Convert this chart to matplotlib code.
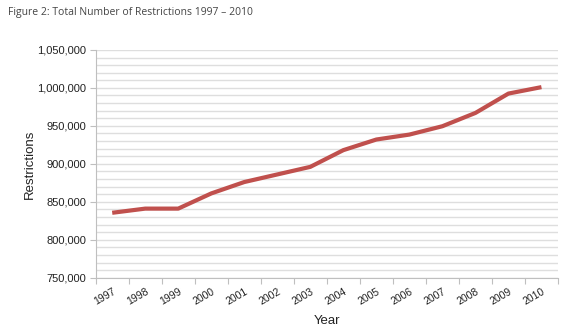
import numpy as np
import matplotlib.pyplot as plt
from matplotlib.ticker import FuncFormatter, MultipleLocator

years = ['1997', '1998', '1999', '2000', '2001', '2002', '2003',
         '2004', '2005', '2006', '2007', '2008', '2009', '2010']
restrictions = [835500, 841000, 841000, 861000, 876000, 886000, 896000,
                918000, 932000, 938500, 949500, 967000, 992500, 1001000]

plt.rcParams['font.family'] = ['Liberation Sans', 'DejaVu Sans']

fig = plt.figure(figsize=(5.8, 3.35), dpi=100)
ax = fig.add_axes([0.165, 0.171, 0.797, 0.680])

x = np.arange(len(years))
ax.plot(x, restrictions, color='#c0504d', lw=3.0, solid_capstyle='butt', zorder=3)

ax.set_xlim(-0.5, len(years) - 0.5)
ax.set_ylim(750000, 1050000)
ax.yaxis.set_major_locator(MultipleLocator(50000))
ax.yaxis.set_minor_locator(MultipleLocator(10000))
ax.yaxis.set_major_formatter(FuncFormatter(lambda v, p: f'{int(v):,}'))
ax.grid(axis='y', which='both', color='#dedede', lw=1.0, zorder=0)
ax.set_axisbelow(True)

ax.set_xticks(np.arange(-0.5, len(years), 1.0))
ax.set_xticklabels([])
ax.set_xticks(x, minor=True)
ax.set_xticklabels(years, minor=True, rotation=30, ha='right',
                   rotation_mode='anchor', fontsize=7.5, color='#222222')
ax.tick_params(axis='x', which='major', length=4, color='#bfbfbf', direction='out')
ax.tick_params(axis='x', which='minor', length=0, pad=6)
ax.tick_params(axis='y', which='major', length=4, color='#bfbfbf', labelsize=8,
               labelcolor='#222222', pad=3)
ax.tick_params(axis='y', which='minor', length=0)

for s in ['top', 'right']:
    ax.spines[s].set_visible(False)
for s in ['left', 'bottom']:
    ax.spines[s].set_color('#bfbfbf')

ax.set_ylabel('Restrictions', fontsize=9.5, color='#222222', labelpad=1)
ax.set_xlabel('Year', fontsize=9.5, color='#222222', labelpad=6)

fig.text(0.014, 0.955, 'Figure 2: Total Number of Restrictions 1997 \u2013 2010',
         fontsize=7.5, color='#444444', family=['Open Sans', 'DejaVu Sans'])

fig.savefig('out.png', dpi=100)
